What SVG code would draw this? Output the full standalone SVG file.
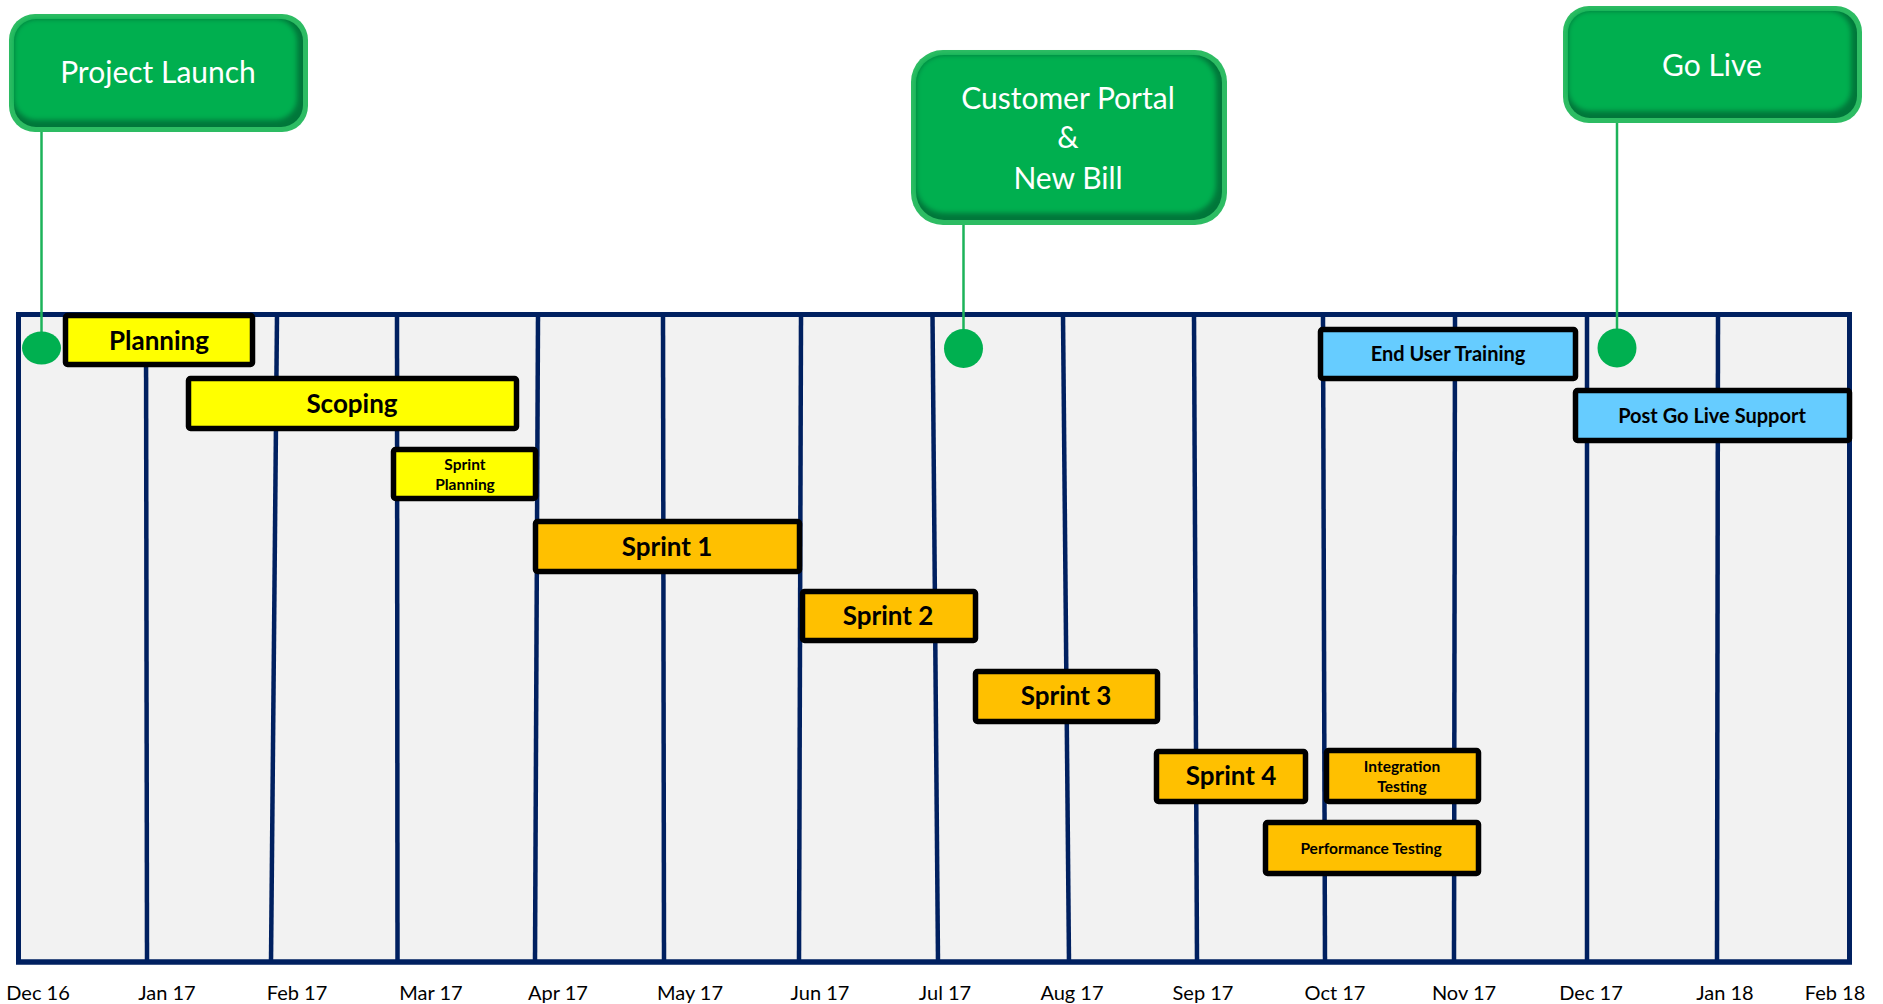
<svg xmlns="http://www.w3.org/2000/svg" width="1883" height="1004" viewBox="0 0 1883 1004">
<defs>
<style>
.frame{fill:#F2F2F2;stroke:#002060;stroke-width:5}
.grid{stroke:#002060;stroke-width:4.5;fill:none}
.bar{stroke:#000;stroke-width:5.5}
.yel{fill:#FFFF00}
.org{fill:#FFC000}
.blu{fill:#66CCFF}
.bt{font-family:Lato,"Liberation Sans",sans-serif;font-weight:bold;fill:#000;text-anchor:middle}
.big{font-size:26px}
.med{font-size:20px}
.sml{font-size:15.5px}
.ax{font-family:Lato,"Liberation Sans",sans-serif;font-size:20px;fill:#000;text-anchor:middle}
.mt{font-family:Lato,"Liberation Sans",sans-serif;font-size:30px;fill:#fff;text-anchor:middle}
.mout{fill:#2DBC63}
.mshadow{fill:#00773A}
.mfill{fill:#00AF50}
.conn{stroke:#1DB35A;stroke-width:2.5;fill:none}
.dot{fill:#00B050}
</style>
<filter id="soft" x="-5%" y="-5%" width="110%" height="110%"><feGaussianBlur stdDeviation="2.5"/></filter>
</defs>
<rect width="1883" height="1004" fill="#fff"/>
<g id="timeline-frame">
<rect class="frame" x="18.5" y="314.5" width="1831" height="647.5"/>
<g class="grid">
<line x1="146" y1="315" x2="147" y2="962"/>
<line x1="277" y1="315" x2="271" y2="962"/>
<line x1="397" y1="315" x2="397.5" y2="962"/>
<line x1="538" y1="315" x2="535" y2="962"/>
<line x1="663" y1="315" x2="664" y2="962"/>
<line x1="801" y1="315" x2="799" y2="962"/>
<line x1="932.5" y1="315" x2="938" y2="962"/>
<line x1="1063" y1="315" x2="1069" y2="962"/>
<line x1="1194" y1="315" x2="1197" y2="962"/>
<line x1="1323" y1="315" x2="1325" y2="962"/>
<line x1="1455" y1="315" x2="1454" y2="962"/>
<line x1="1587" y1="315" x2="1587" y2="962"/>
<line x1="1718" y1="315" x2="1717" y2="962"/>
</g>
<rect x="18.5" y="314.5" width="1831" height="647.5" fill="none" stroke="#002060" stroke-width="5"/>
</g>
<g id="axis-labels">
<text class="ax" x="38" y="1000">Dec 16</text>
<text class="ax" x="167" y="1000">Jan 17</text>
<text class="ax" x="297" y="1000">Feb 17</text>
<text class="ax" x="431" y="1000">Mar 17</text>
<text class="ax" x="558" y="1000">Apr 17</text>
<text class="ax" x="690" y="1000">May 17</text>
<text class="ax" x="820" y="1000">Jun 17</text>
<text class="ax" x="945" y="1000">Jul 17</text>
<text class="ax" x="1072" y="1000">Aug 17</text>
<text class="ax" x="1203" y="1000">Sep 17</text>
<text class="ax" x="1335" y="1000">Oct 17</text>
<text class="ax" x="1464" y="1000">Nov 17</text>
<text class="ax" x="1591" y="1000">Dec 17</text>
<text class="ax" x="1725" y="1000">Jan 18</text>
<text class="ax" x="1835" y="1000">Feb 18</text>
</g>
<g id="connectors">
<line class="conn" x1="41.5" y1="130" x2="41.5" y2="340"/>
<ellipse class="dot" cx="41.5" cy="348" rx="19.5" ry="16.5"/>
<line class="conn" x1="963.5" y1="223" x2="963.5" y2="340"/>
<circle class="dot" cx="963.5" cy="348.5" r="19.5"/>
<line class="conn" x1="1617" y1="121" x2="1617" y2="340"/>
<circle class="dot" cx="1617" cy="348" r="19.5"/>
</g>
<g id="milestone-project-launch">
<rect class="mout" x="9" y="14" width="299" height="118" rx="26"/>
<rect class="mshadow" x="14" y="19" width="289" height="108" rx="22"/>
<rect class="mfill" x="14" y="19" width="283" height="101" rx="22" filter="url(#soft)"/>
<text class="mt" x="158" y="83">Project Launch</text>
</g>
<g id="milestone-customer-portal">
<rect class="mout" x="911" y="50" width="316" height="175" rx="32"/>
<rect class="mshadow" x="916" y="55" width="306" height="165" rx="28"/>
<rect class="mfill" x="916" y="55" width="300" height="158" rx="28" filter="url(#soft)"/>
<text class="mt" x="1068" y="109">Customer Portal</text>
<text class="mt" x="1068" y="148">&amp;</text>
<text class="mt" x="1068" y="189">New Bill</text>
</g>
<g id="milestone-go-live">
<rect class="mout" x="1563" y="6" width="299" height="117" rx="26"/>
<rect class="mshadow" x="1568" y="11" width="289" height="107" rx="22"/>
<rect class="mfill" x="1568" y="11" width="283" height="100" rx="22" filter="url(#soft)"/>
<text class="mt" x="1712" y="76">Go Live</text>
</g>
<g id="task-planning">
<rect class="bar yel" x="65.5" y="315.5" width="187" height="49" rx="2"/>
<text class="bt big" x="159" y="350">Planning</text>
</g>
<g id="task-scoping">
<rect class="bar yel" x="188.5" y="378.5" width="328" height="50" rx="2"/>
<text class="bt big" x="352" y="413">Scoping</text>
</g>
<g id="task-sprint-planning">
<rect class="bar yel" x="393.5" y="449.5" width="142" height="49" rx="2"/>
<text class="bt sml" x="465" y="470">Sprint</text>
<text class="bt sml" x="465" y="490">Planning</text>
</g>
<g id="task-sprint-1">
<rect class="bar org" x="535.5" y="521.5" width="264" height="50" rx="2"/>
<text class="bt big" x="667" y="556">Sprint 1</text>
</g>
<g id="task-sprint-2">
<rect class="bar org" x="802.5" y="591.5" width="173" height="49" rx="2"/>
<text class="bt big" x="888" y="625">Sprint 2</text>
</g>
<g id="task-sprint-3">
<rect class="bar org" x="975.5" y="671.5" width="182" height="50" rx="2"/>
<text class="bt big" x="1066" y="705">Sprint 3</text>
</g>
<g id="task-sprint-4">
<rect class="bar org" x="1156.5" y="751.5" width="149" height="50" rx="2"/>
<text class="bt big" x="1231" y="785">Sprint 4</text>
</g>
<g id="task-integration-testing">
<rect class="bar org" x="1326.5" y="750.5" width="152" height="51" rx="2"/>
<text class="bt sml" x="1402" y="772">Integration</text>
<text class="bt sml" x="1402" y="792">Testing</text>
</g>
<g id="task-performance-testing">
<rect class="bar org" x="1265.5" y="822.5" width="213" height="51" rx="2"/>
<text class="bt sml" x="1371" y="854">Performance Testing</text>
</g>
<g id="task-end-user-training">
<rect class="bar blu" x="1320.5" y="329.5" width="255" height="49" rx="2"/>
<text class="bt med" x="1448" y="361">End User Training</text>
</g>
<g id="task-post-go-live-support">
<rect class="bar blu" x="1575.5" y="390.5" width="274" height="50" rx="2"/>
<text class="bt med" x="1712" y="423">Post Go Live Support</text>
</g>
</svg>
